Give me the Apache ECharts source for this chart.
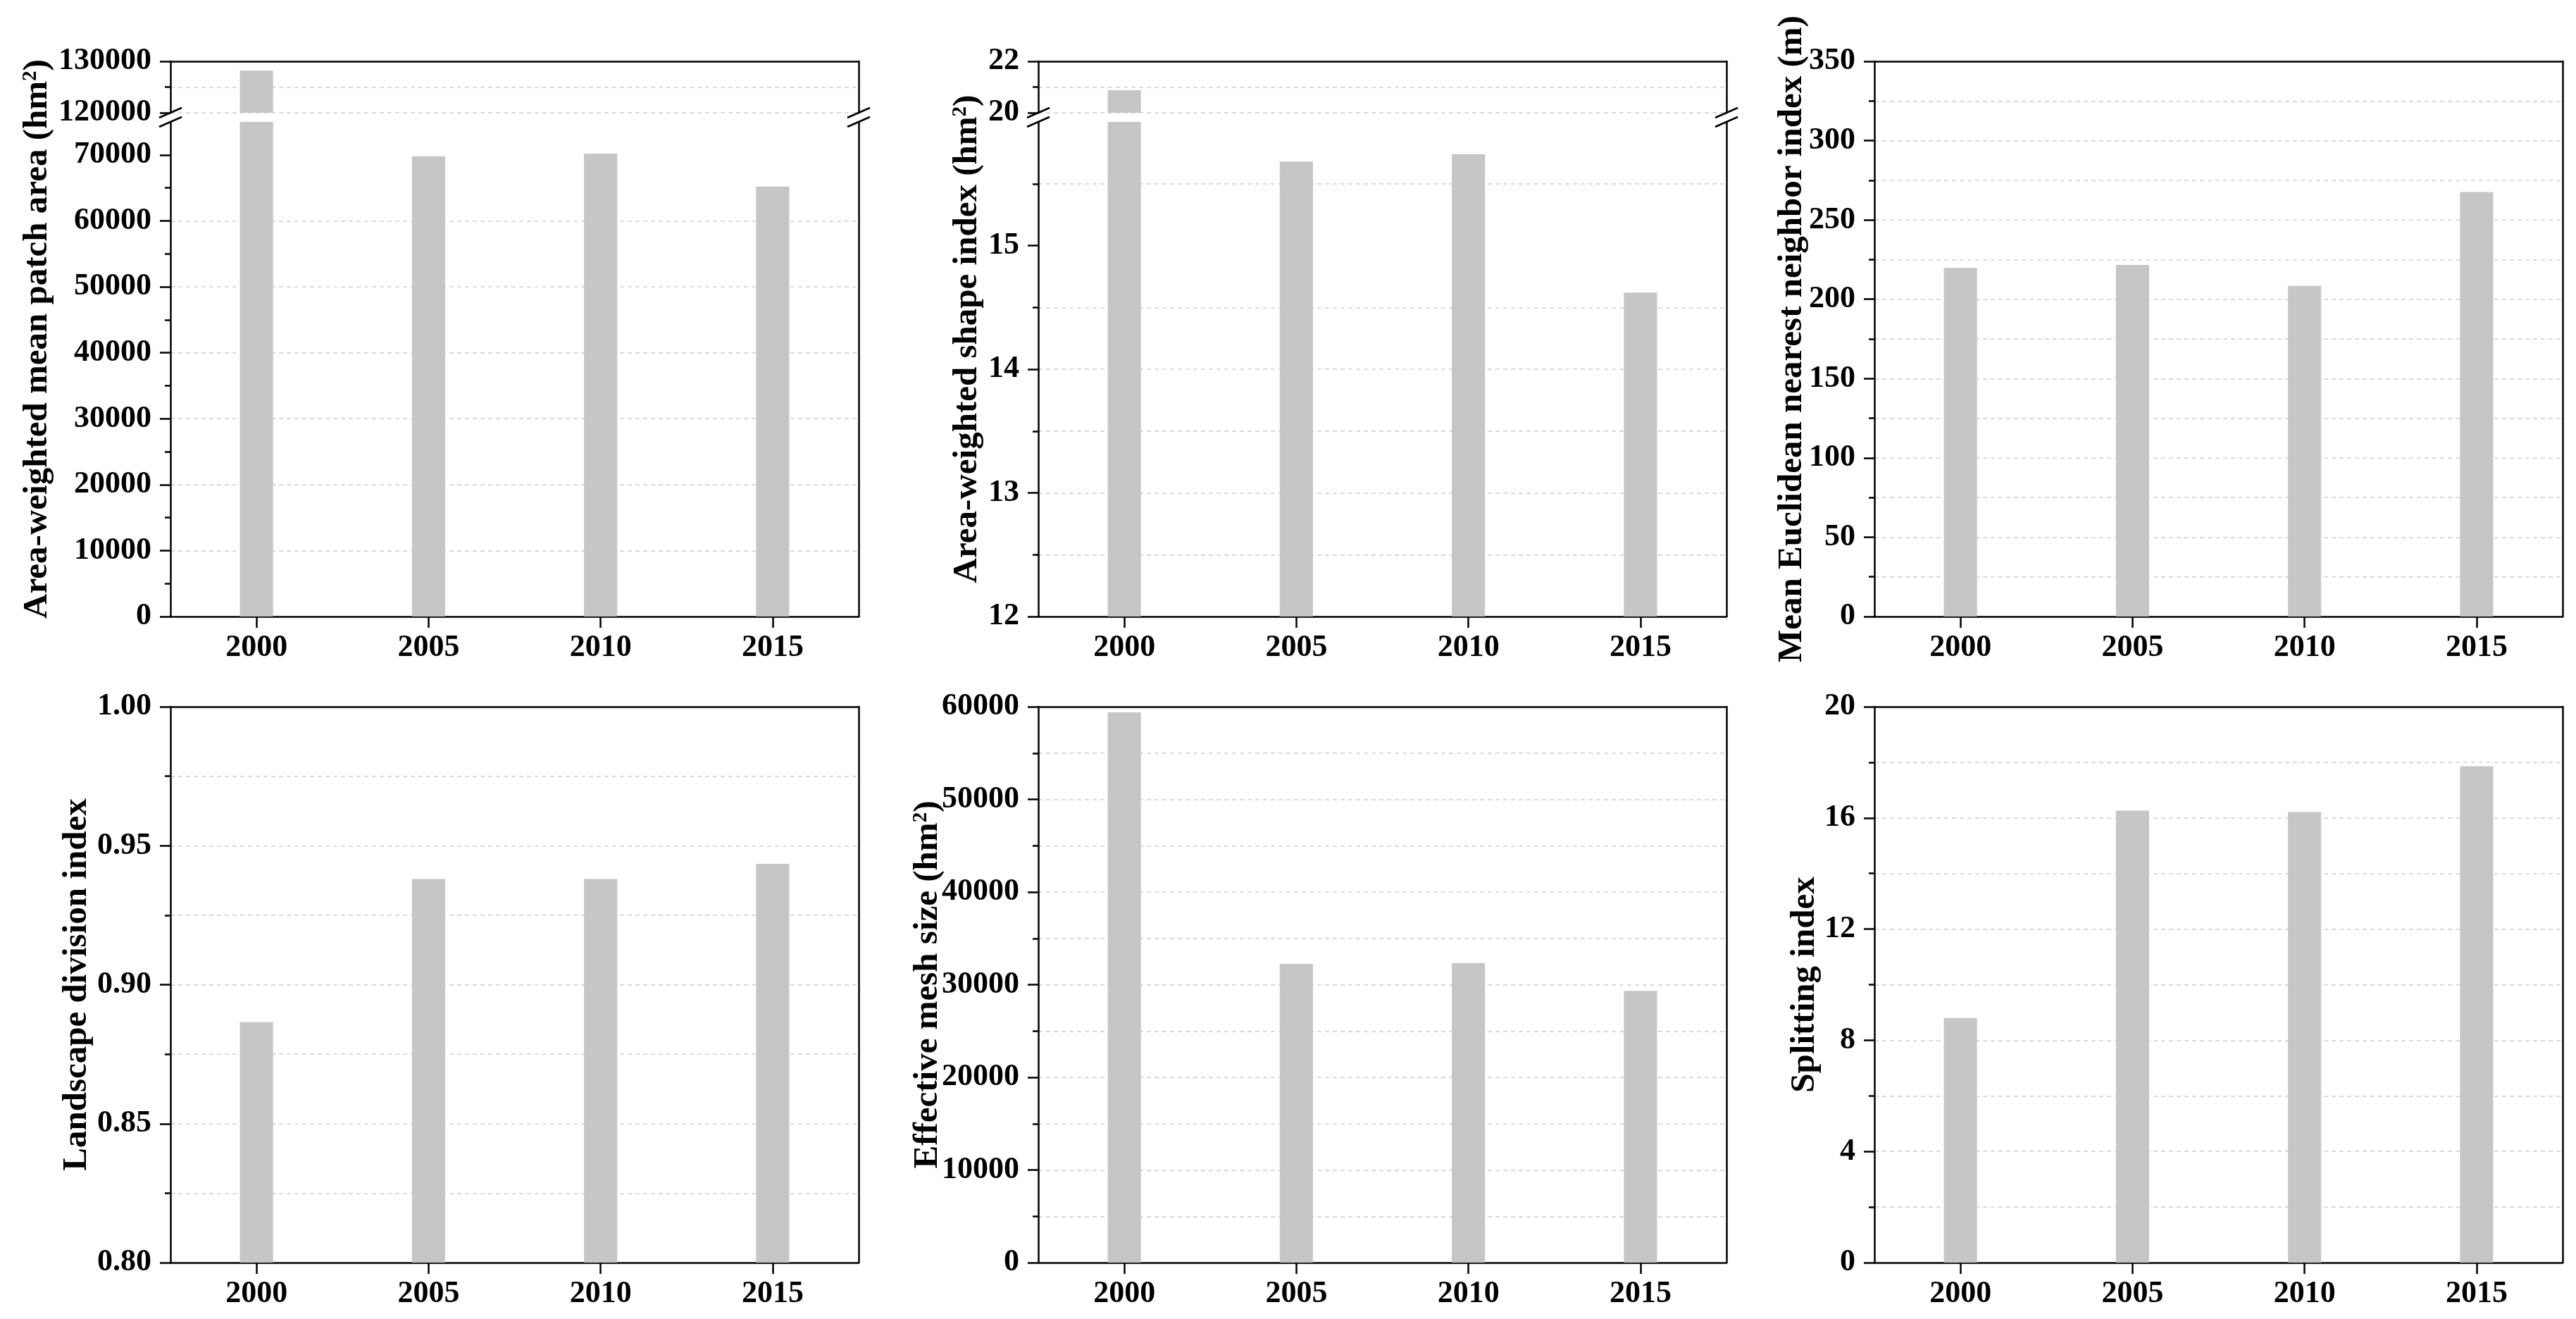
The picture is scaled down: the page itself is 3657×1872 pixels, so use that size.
<!DOCTYPE html>
<html>
<head>
<meta charset="utf-8">
<script src="https://cdn.jsdelivr.net/npm/echarts@6/dist/echarts.min.js"></script>
<style>
html,body{margin:0;padding:0;background:#fff;}
#chart{width:3657px;height:1872px;}
</style>
</head>
<body>
<div id="chart"></div>
<script>
// ---------- data ----------
const years = ['2000', '2005', '2010', '2015'];
const meanPatchArea = [128200, 69800, 70200, 65200];      // hm2
const shapeIndex = [20.88, 15.68, 15.74, 14.62];
const nearestNeighbor = [219.7, 221.6, 208.4, 267.6];     // m
const divisionIndex = [0.8865, 0.938, 0.938, 0.9435];
const meshSize = [59400, 32240, 32330, 29340];            // hm2
const splittingIndex = [8.80, 16.26, 16.21, 17.86];

// axis ranges / tick labels
const mpaLowerLabels = [0, 10000, 20000, 30000, 40000, 50000, 60000, 70000];
const mpaLowerMinorTicks = [5000, 15000, 25000, 35000, 45000, 55000, 65000];
const mpaLower = [0, 75000];
const mpaUpper = [120000, 130000];
const siLower = [12, 16];
const siLowerTicks = [12, 13, 14, 15];
const siUpper = [20, 22];

// ---------- style / layout ----------
const FONT = 'Liberation Serif';
const BAR = '#c6c6c6';
const GRIDC = '#d0d0d0';
const LW = 2.5;
const PW = 977;
const LABEL_FS = 44;
const TITLE_FS = 49;
const panels = [
  {left: 242, top: 87, h: 788, gap: 164},
  {left: 1474, top: 87, h: 788, gap: 76},
  {left: 2661, top: 87, h: 788, gap: 92},
  {left: 242, top: 1003, h: 789, gap: 108},
  {left: 1474, top: 1003, h: 789, gap: 132},
  {left: 2661, top: 1003, h: 789, gap: 74}
];
const UPPER_H = 73, BREAK_GAP = 13;

const grid = [], xAxis = [], yAxis = [], series = [], graphic = [];
const dash = {color: GRIDC, width: 1.6, type: [6, 5]};
const plain = function (v) { return String(v); };

function addGrid(left, top, height) {
  grid.push({left: left, top: top, width: PW, height: height, containLabel: false, show: false});
  return grid.length - 1;
}
function lineOnlyX(gi, pos) {
  xAxis.push({type: 'category', gridIndex: gi, position: pos, data: years,
    axisLine: {show: true, onZero: false, lineStyle: {color: '#000', width: LW}},
    axisTick: {show: false}, axisLabel: {show: false}, splitLine: {show: false}});
  return xAxis.length - 1;
}
function lineOnlyY(gi, min, max) {
  yAxis.push({type: 'value', gridIndex: gi, position: 'right', min: min, max: max,
    axisLine: {show: true, onZero: false, lineStyle: {color: '#000', width: LW}},
    axisTick: {show: false}, axisLabel: {show: false}, splitLine: {show: false}});
  return yAxis.length - 1;
}
function labelX(gi) {
  xAxis.push({type: 'category', gridIndex: gi, position: 'bottom', data: years,
    axisLine: {show: true, onZero: false, lineStyle: {color: '#000', width: LW}},
    axisTick: {show: true, alignWithLabel: true, length: 16, lineStyle: {color: '#000', width: LW}},
    axisLabel: {show: true, margin: 23, fontFamily: FONT, fontWeight: 'bold', fontSize: LABEL_FS, color: '#000'},
    splitLine: {show: false}});
  return xAxis.length - 1;
}
function valueY(gi, o) {
  const ax = {type: 'value', gridIndex: gi, position: 'left', min: o.min, max: o.max, interval: o.interval,
    axisLine: {show: true, onZero: false, lineStyle: {color: '#000', width: LW}},
    axisTick: {show: true, length: 15, lineStyle: {color: '#000', width: LW}},
    axisLabel: {show: true, margin: 27, fontFamily: FONT, fontWeight: 'bold', fontSize: LABEL_FS, color: '#000',
      showMaxLabel: o.showMax !== false, formatter: o.fmt || plain},
    splitLine: {show: true, showMinLine: !!o.minLine, showMaxLine: false, lineStyle: dash},
    minorTick: {show: !!o.minor, splitNumber: 2, length: 8, lineStyle: {color: '#000', width: LW}},
    minorSplitLine: {show: !!o.minor, lineStyle: dash}
  };
  if (o.labelValues) ax.axisLabel.customValues = o.labelValues;
  if (o.tickValues) ax.axisTick.customValues = o.tickValues;
  yAxis.push(ax);
  return yAxis.length - 1;
}
function tickOnlyY(gi, min, max, values, len) {
  yAxis.push({type: 'value', gridIndex: gi, position: 'left', min: min, max: max,
    axisLine: {show: false}, axisLabel: {show: false}, splitLine: {show: false},
    axisTick: {show: true, length: len, customValues: values, lineStyle: {color: '#000', width: LW}}});
  return yAxis.length - 1;
}
function titleAxis(p, name) {
  const gi = addGrid(p.left, p.top, p.h);
  xAxis.push({type: 'category', gridIndex: gi, data: years, show: false});
  yAxis.push({type: 'value', gridIndex: gi, min: 0, max: 1, position: 'left',
    axisLine: {show: false}, axisTick: {show: false}, axisLabel: {show: false}, splitLine: {show: false},
    name: name, nameLocation: 'middle', nameRotate: 90, nameGap: p.gap,
    nameTextStyle: {fontFamily: FONT, fontWeight: 'bold', fontSize: TITLE_FS, color: '#000',
      rich: {sup: {fontFamily: FONT, fontWeight: 'bold', fontSize: 29, color: '#000', verticalAlign: 'top', lineHeight: 30}}}});
}
function bars(xi, yi, data) {
  series.push({type: 'bar', xAxisIndex: xi, yAxisIndex: yi, data: data, barWidth: '19.3%', clip: true,
    silent: true, itemStyle: {color: BAR}});
}
function breakMarks(p, yTop, yBot) {
  [p.left, p.left + PW].forEach(function (x) {
    [yTop, yBot].forEach(function (y) {
      graphic.push({type: 'line', z: 100, shape: {x1: x - 16, y1: y + 7, x2: x + 16, y2: y - 7},
        style: {stroke: '#000', lineWidth: LW}});
    });
  });
}

function simplePanel(p, values, o, title) {
  const gi = addGrid(p.left, p.top, p.h);
  const xi = labelX(gi);
  lineOnlyX(gi, 'top');
  const yi = valueY(gi, o);
  lineOnlyY(gi, o.min, o.max);
  bars(xi, yi, values);
  titleAxis(p, title);
}

function brokenPanel(p, values, up, low, title) {
  const lowerTop = p.top + UPPER_H + BREAK_GAP;
  const lowerH = p.h - UPPER_H - BREAK_GAP;
  // upper part
  const gu = addGrid(p.left, p.top, UPPER_H);
  const xu = lineOnlyX(gu, 'top');
  const yu = valueY(gu, up);
  lineOnlyY(gu, up.min, up.max);
  bars(xu, yu, values.map(function (v) { return v > up.min ? v : '-'; }));
  // lower part
  const gl = addGrid(p.left, lowerTop, lowerH);
  const xl = labelX(gl);
  const yl = valueY(gl, low);
  lineOnlyY(gl, low.min, low.max);
  if (low.extraTicks) tickOnlyY(gl, low.min, low.max, low.extraTicks, 8);
  bars(xl, yl, values);
  breakMarks(p, p.top + UPPER_H, lowerTop);
  titleAxis(p, title);
}

// Panel 1: area-weighted mean patch area (broken axis)
brokenPanel(panels[0], meanPatchArea,
  {min: mpaUpper[0], max: mpaUpper[1], interval: 10000, minor: true, minLine: true},
  {min: mpaLower[0], max: mpaLower[1], interval: 5000, labelValues: mpaLowerLabels, tickValues: mpaLowerLabels,
   extraTicks: mpaLowerMinorTicks},
  'Area-weighted mean patch area (hm{sup|2})');

// Panel 2: area-weighted shape index (broken axis)
brokenPanel(panels[1], shapeIndex,
  {min: siUpper[0], max: siUpper[1], interval: 2, minor: true, minLine: true},
  {min: siLower[0], max: siLower[1], interval: 1, minor: true, showMax: false, tickValues: siLowerTicks},
  'Area-weighted shape index (hm{sup|2})');

// Panel 3
simplePanel(panels[2], nearestNeighbor, {min: 0, max: 350, interval: 50, minor: true},
  'Mean Euclidean nearest neighbor index (m)');

// Panel 4
simplePanel(panels[3], divisionIndex, {min: 0.8, max: 1.0, interval: 0.05, minor: true,
  fmt: function (v) { return v.toFixed(2); }}, 'Landscape division index');

// Panel 5
simplePanel(panels[4], meshSize, {min: 0, max: 60000, interval: 10000, minor: true},
  'Effective mesh size (hm{sup|2})');

// Panel 6
simplePanel(panels[5], splittingIndex, {min: 0, max: 20, interval: 4, minor: true},
  'Splitting index');

const chart = echarts.init(document.getElementById('chart'), null, {renderer: 'canvas'});
chart.setOption({
  backgroundColor: '#ffffff',
  animation: false,
  grid: grid, xAxis: xAxis, yAxis: yAxis, series: series, graphic: graphic
});
</script>
</body>
</html>
